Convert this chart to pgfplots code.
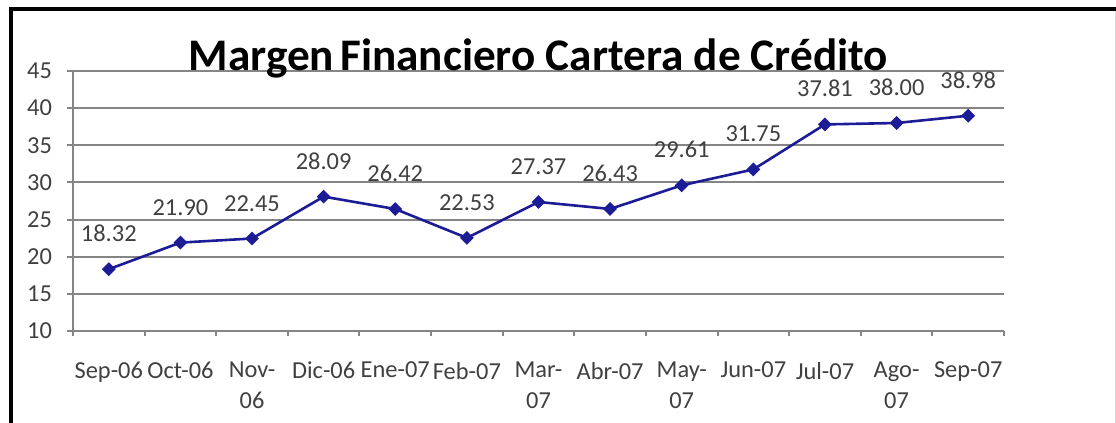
\documentclass[border=0pt]{standalone}
\usepackage{fontspec}
\setmainfont{Carlito}
\usepackage{pgfplots}
\pgfplotsset{compat=1.18}
\definecolor{gridc}{HTML}{858585}
\definecolor{txt}{HTML}{404040}
\definecolor{serie}{HTML}{1C1C96}
\begin{document}
\begin{tikzpicture}[x=1pt,y=1pt]
\path[use as bounding box] (0,0) rectangle (558,211.5);
\draw[line width=2pt,black] (5.5,0) -- (5.5,207) -- (558,207);
\draw[line width=0.5pt,black!15] (557.5,0) -- (557.5,206);
\begin{axis}[
  at={(36.5pt,46pt)}, anchor=south west,
  scale only axis, width=465.5pt, height=130pt,
  xmin=-0.5, xmax=12.5, ymin=10, ymax=45,
  ytick={10,15,...,45},
  xtick={0,...,12},
  xticklabels={Sep-06,Oct-06,Nov-\\06,Dic-06,Ene-07,Feb-07,Mar-\\07,Abr-07,May-\\07,Jun-07,Jul-07,Ago-\\07,Sep-07},
  minor xtick={-0.5,0.5,...,12.5},
  major x tick style={draw=none},
  axis x line=bottom, axis y line=left,
  x axis line style={-}, y axis line style={-},
  axis line style={gridc, line width=1pt},
  ymajorgrids, grid style={gridc, line width=1pt},
  tick style={gridc, line width=1pt},
  tick align=outside,
  major tick length=3pt, minor tick length=2.5pt,
  /pgf/number format/assume math mode=true,
  tick label style={font=\fontsize{12.2}{15.2}\selectfont, text=txt},
  xticklabel style={align=center, yshift=-9pt},
  yticklabel style={xshift=-4pt},
  title={Margen\hspace{0.14em}Financiero Cartera de Crédito},
  title style={anchor=base, at={(0.5,1)}, yshift=-5.5pt, font=\bfseries\fontsize{22.6}{28}\selectfont, text=black},
  clip=false,
]
\addplot[serie, line width=1.3pt, mark=square*, mark size=1.8pt, mark options={rotate=45, fill=serie},
  nodes near coords={\pgfmathprintnumber[fixed,fixed zerofill,precision=2,assume math mode=true]{\pgfplotspointmeta}},
  nodes near coords style={font=\fontsize{12.2}{14}\selectfont, text=txt, anchor=south, inner sep=0pt, yshift=13pt}]
coordinates {(0,18.32)(1,21.90)(2,22.45)(3,28.09)(4,26.42)(5,22.53)(6,27.37)(7,26.43)(8,29.61)(9,31.75)(10,37.81)(11,38.00)(12,38.98)};
\end{axis}
\end{tikzpicture}
\end{document}
